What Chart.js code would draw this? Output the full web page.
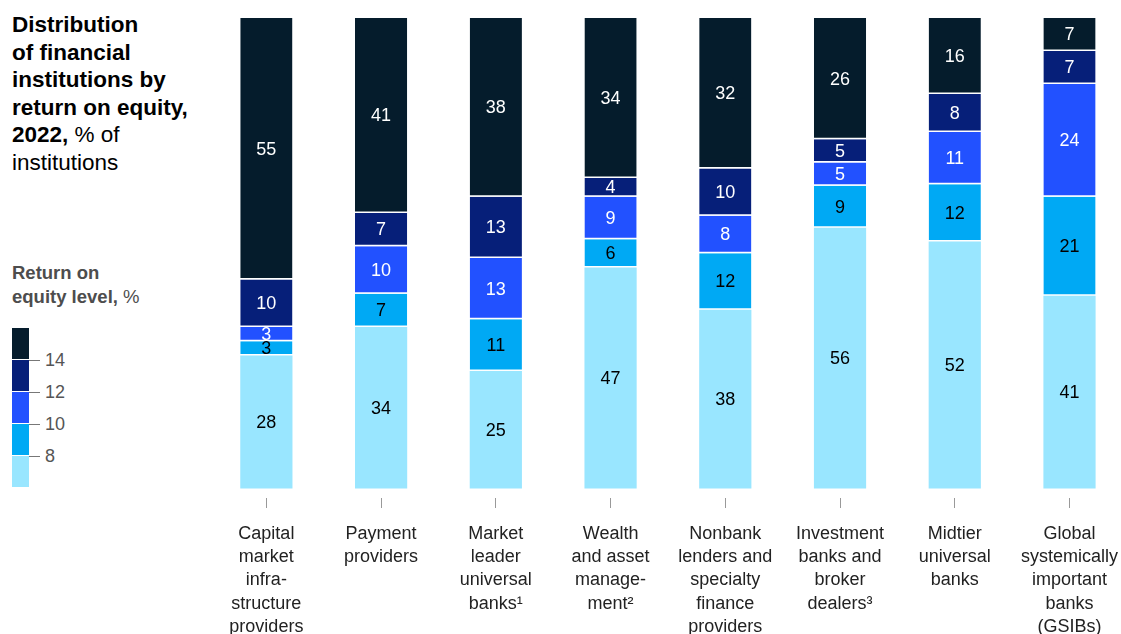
<!DOCTYPE html>
<html>
<head>
<meta charset="utf-8">
<script src="https://cdn.jsdelivr.net/npm/chart.js@4"></script>
<style>
  html, body { margin: 0; padding: 0; background: #fff; overflow: hidden; }
  body { width: 1121px; height: 634px; position: relative; font-family: "Liberation Sans", Arial, sans-serif; }
  #wrap { position: absolute; left: 0; top: 0; width: 1132px; height: 653px; }
  #titulo { position: absolute; left: 12px; top: 11px; font-size: 22.5px; line-height: 27.6px; color: #000; }
  #titulo b { font-weight: bold; }
  #legTitulo { position: absolute; left: 12px; top: 261px; font-size: 18.5px; line-height: 24px; color: #4d4d4d; }
  .seg { position: absolute; left: 12px; width: 17px; height: 31px; }
  .tk { position: absolute; left: 29px; width: 11px; height: 1px; background: #777; }
  .tl { position: absolute; left: 45px; font-size: 18px; color: #555; line-height: 20px; }
</style>
</head>
<body>
<div id="titulo"><b>Distribution<br>of financial<br>institutions by<br>return on equity,<br>2022,</b> % of<br>institutions</div>
<div id="legTitulo"><b>Return on<br>equity level,</b> %</div>
<div id="legenda"></div>
<div id="wrap"><canvas id="grafico"></canvas></div>
<script>
// categorias (eixo x)
var categorias = [
    ['Capital', 'market', 'infra-', 'structure', 'providers'],
    ['Payment', 'providers'],
    ['Market', 'leader', 'universal', 'banks\u00b9'],
    ['Wealth', 'and asset', 'manage-', 'ment\u00b2'],
    ['Nonbank', 'lenders and', 'specialty', 'finance', 'providers'],
    ['Investment', 'banks and', 'broker', 'dealers\u00b3'],
    ['Midtier', 'universal', 'banks'],
    ['Global', 'systemically', 'important', 'banks', '(GSIBs)']
];

// % de instituições por faixa de ROE (de baixo para cima)
var abaixo8 = [28, 34, 25, 47, 38, 56, 52, 41];
var de8a10  = [3, 7, 11, 6, 12, 9, 12, 21];
var de10a12 = [3, 10, 13, 9, 8, 5, 11, 24];
var de12a14 = [10, 7, 13, 4, 10, 5, 8, 7];
var acima14 = [55, 41, 38, 34, 32, 26, 16, 7];

var faixas = ['<8', '8-10', '10-12', '12-14', '>14'];
var cores = ['#99e6ff', '#00a9f4', '#2251ff', '#061f79', '#051c2c'];
var corTexto = ['#000', '#000', '#fff', '#fff', '#fff'];
var legendaTicks = ['14', '12', '10', '8'];

var series = [abaixo8, de8a10, de10a12, de12a14, acima14];

// barras somam 100% na figura
var totais = categorias.map(function (c, i) {
    return series.reduce(function (s, arr) { return s + arr[i]; }, 0);
});

// legenda em barra de cores
var legenda = document.getElementById('legenda');
for (var k = 0; k < 5; k++) {
    var seg = document.createElement('div');
    seg.className = 'seg';
    seg.style.top = (328 + k * 32) + 'px';
    seg.style.background = cores[4 - k];
    legenda.appendChild(seg);
}
legendaTicks.forEach(function (t, k) {
    var y = 360 + k * 32;
    var tk = document.createElement('div');
    tk.className = 'tk';
    tk.style.top = y + 'px';
    legenda.appendChild(tk);
    var tl = document.createElement('div');
    tl.className = 'tl';
    tl.style.top = (y - 10) + 'px';
    tl.textContent = t;
    legenda.appendChild(tl);
});

var rotulos = {
    id: 'rotulos',
    afterDatasetsDraw: function (chart) {
        var ctx = chart.ctx;
        ctx.save();
        ctx.font = '18px "Liberation Sans", Arial, sans-serif';
        ctx.textAlign = 'center';
        ctx.textBaseline = 'middle';
        chart.data.datasets.forEach(function (ds, d) {
            chart.getDatasetMeta(d).data.forEach(function (bar, i) {
                var yMeio = (bar.y + bar.base) / 2;
                ctx.fillStyle = corTexto[d];
                ctx.fillText(String(series[d][i]), bar.x, yMeio + 1);
            });
        });
        ctx.restore();
    }
};

var ctx = document.getElementById('grafico');
new Chart(ctx, {
    type: 'bar',
    data: {
        labels: categorias,
        datasets: series.map(function (arr, d) {
            return {
                label: faixas[d],
                data: arr.map(function (v, i) { return v / totais[i] * 100; }),
                backgroundColor: cores[d],
                borderColor: '#fff',
                borderWidth: d === 0 ? 0 : { top: 0, bottom: 1.5, left: 0, right: 0 },
                borderSkipped: false,
                barPercentage: 0.91,
                categoryPercentage: 0.5
            };
        })
    },
    options: {
        responsive: true,
        maintainAspectRatio: false,
        animation: false,
        layout: { padding: { left: 209, right: 0, top: 18, bottom: 0 } },
        plugins: {
            legend: { display: false },
            tooltip: { enabled: false }
        },
        scales: {
            x: {
                stacked: true,
                border: { display: false },
                grid: {
                    display: true,
                    offset: false,
                    drawOnChartArea: false,
                    drawTicks: true,
                    tickLength: 10,
                    color: '#999'
                },
                ticks: {
                    color: '#222',
                    padding: 14,
                    maxRotation: 0,
                    autoSkip: false,
                    font: { size: 18, family: '"Liberation Sans", Arial, sans-serif', lineHeight: 1.3 }
                }
            },
            y: {
                stacked: true,
                display: false,
                min: -2,
                max: 100
            }
        }
    },
    plugins: [rotulos]
});
</script>
</body>
</html>
